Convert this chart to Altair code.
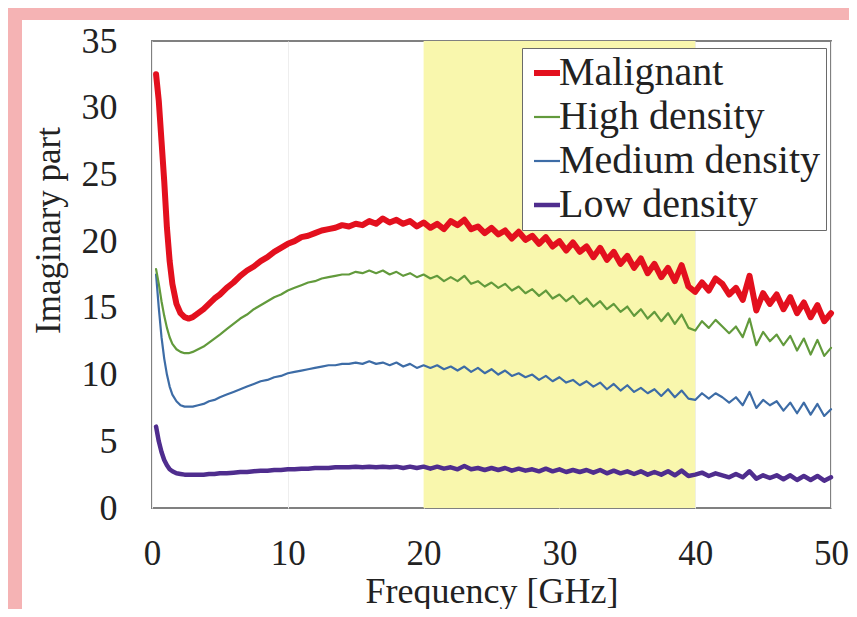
import altair as alt
import pandas as pd

# Frequency grid [GHz]
freq = [0.3, 0.5, 0.7, 0.9, 1.1, 1.3, 1.5, 1.8, 2.1, 2.4, 2.7, 3.0, 3.4, 3.8, 4.2, 4.6,
        5.0, 5.5, 6.0, 6.5, 7.0, 7.5, 8.0, 8.5, 9.0, 9.5,
        10.0, 10.5, 11.0, 11.5, 12.0, 12.5, 13.0, 13.5, 14.0, 14.5,
        15.0, 15.5, 16.0, 16.5, 17.0, 17.5, 18.0, 18.5, 19.0, 19.5,
        20.0, 20.5, 21.0, 21.5, 22.0, 22.5, 23.0, 23.5, 24.0, 24.5,
        25.0, 25.5, 26.0, 26.5, 27.0, 27.5, 28.0, 28.5, 29.0, 29.5,
        30.0, 30.5, 31.0, 31.5, 32.0, 32.5, 33.0, 33.5, 34.0, 34.5,
        35.0, 35.5, 36.0, 36.5, 37.0, 37.5, 38.0, 38.5, 39.0, 39.5,
        40.0, 40.5, 41.0, 41.5, 42.0, 42.5, 43.0, 43.5, 44.0, 44.5,
        45.0, 45.5, 46.0, 46.5, 47.0, 47.5, 48.0, 48.5, 49.0, 49.5, 50.0]

malignant = [32.5, 30.5, 27.5, 24.5, 21.0, 18.5, 16.8, 15.3, 14.6, 14.3, 14.2, 14.3, 14.6, 14.9, 15.3, 15.7,
             16.0, 16.5, 16.9, 17.4, 17.8, 18.1, 18.5, 18.8, 19.2, 19.5,
             19.8, 20.0, 20.3, 20.4, 20.6, 20.8, 20.9, 21.0, 21.2, 21.1,
             21.3, 21.2, 21.5, 21.3, 21.7, 21.4, 21.6, 21.3, 21.5, 21.1,
             21.4, 21.0, 21.3, 20.9, 21.5, 21.2, 21.6, 20.9, 21.1, 20.6,
             21.0, 20.5, 20.8, 20.2, 20.7, 20.1, 20.4, 19.8, 20.3, 19.6,
             20.0, 19.3, 19.9, 19.2, 19.6, 18.8, 19.5, 18.6, 19.2, 18.3,
             18.9, 18.0, 18.7, 17.6, 18.3, 17.3, 18.0, 17.0, 18.2, 16.6,
             16.2, 16.9, 16.3, 17.2, 16.8, 16.0, 16.5, 15.6, 17.4, 14.8,
             16.1, 15.3, 16.0, 14.9, 15.8, 14.6, 15.4, 14.3, 15.2, 14.0, 14.6]

high = [17.9, 16.8, 15.5, 14.4, 13.5, 12.8, 12.3, 11.9, 11.7, 11.6, 11.6, 11.7, 11.9, 12.1, 12.4, 12.7,
        13.0, 13.4, 13.8, 14.2, 14.5, 14.9, 15.2, 15.5, 15.8, 16.0,
        16.3, 16.5, 16.7, 16.9, 17.0, 17.2, 17.3, 17.4, 17.5, 17.5,
        17.7, 17.6, 17.8, 17.6, 17.8, 17.5, 17.7, 17.4, 17.6, 17.3,
        17.5, 17.2, 17.4, 17.0, 17.3, 17.0, 17.4, 16.8, 17.0, 16.6,
        16.9, 16.5, 16.8, 16.3, 16.6, 16.1, 16.4, 15.9, 16.3, 15.7,
        16.0, 15.5, 15.9, 15.3, 15.7, 15.1, 15.5, 14.9, 15.3, 14.7,
        15.1, 14.4, 14.9, 14.2, 14.7, 14.0, 14.6, 13.8, 14.5, 13.5,
        13.3, 14.0, 13.5, 14.1, 13.6, 13.1, 13.6, 12.8, 14.2, 12.2,
        13.2, 12.5, 13.0, 12.2, 12.9, 11.8, 12.7, 11.5, 12.6, 11.4, 12.0]

medium = [17.5, 15.0, 12.8, 11.2, 10.0, 9.1, 8.5, 8.0, 7.7, 7.6, 7.6, 7.6, 7.7, 7.8, 8.0, 8.1,
          8.3, 8.5, 8.7, 8.9, 9.1, 9.3, 9.5, 9.6, 9.8, 9.9,
          10.1, 10.2, 10.3, 10.4, 10.5, 10.6, 10.7, 10.7, 10.8, 10.8,
          10.9, 10.8, 11.0, 10.8, 10.9, 10.7, 10.9, 10.6, 10.8, 10.5,
          10.7, 10.5, 10.7, 10.4, 10.6, 10.3, 10.6, 10.2, 10.5, 10.1,
          10.4, 10.0, 10.3, 9.9, 10.1, 9.8, 10.0, 9.6, 9.9, 9.5,
          9.8, 9.4, 9.6, 9.2, 9.5, 9.1, 9.4, 8.9, 9.3, 8.8,
          9.2, 8.7, 9.0, 8.6, 8.9, 8.4, 8.9, 8.3, 8.8, 8.2,
          8.1, 8.6, 8.2, 8.6, 8.3, 7.9, 8.3, 7.7, 8.7, 7.5,
          8.1, 7.7, 8.0, 7.3, 7.9, 7.1, 7.9, 7.0, 7.8, 6.9, 7.4]

low = [6.1, 5.0, 4.2, 3.6, 3.2, 2.9, 2.75, 2.6, 2.55, 2.5, 2.5, 2.5, 2.5, 2.5, 2.55, 2.55,
       2.6, 2.6, 2.65, 2.7, 2.7, 2.75, 2.8, 2.8, 2.85, 2.85,
       2.9, 2.9, 2.95, 2.95, 3.0, 3.0, 3.0, 3.05, 3.05, 3.05,
       3.1, 3.05, 3.1, 3.05, 3.1, 3.05, 3.1, 3.0, 3.1, 3.0,
       3.1, 2.95, 3.1, 2.95, 3.05, 2.9, 3.15, 2.9, 3.0, 2.85,
       3.0, 2.85, 3.0, 2.8, 2.95, 2.8, 2.9, 2.75, 2.95, 2.75,
       2.9, 2.7, 2.85, 2.7, 2.85, 2.65, 2.85, 2.6, 2.8, 2.6,
       2.75, 2.55, 2.75, 2.5, 2.7, 2.5, 2.75, 2.45, 2.8, 2.4,
       2.5, 2.65, 2.4, 2.6, 2.45, 2.3, 2.55, 2.3, 2.75, 2.2,
       2.45, 2.25, 2.45, 2.15, 2.45, 2.1, 2.4, 2.1, 2.4, 2.05, 2.3]

series_names = ["Malignant", "High density", "Medium density", "Low density"]
series_colors = ["#e3101e", "#629a3c", "#3d6ca6", "#4f2d8e"]
series_widths = [6.0, 2.2, 2.2, 4.5]

x_ticks = [0, 10, 20, 30, 40, 50]
y_ticks = [0, 5, 10, 15, 20, 25, 30, 35]

band_start = [20]
band_end = [40]

rows = []
for name, vals in [("Low density", low), ("Medium density", medium),
                   ("High density", high), ("Malignant", malignant)]:
    for f, v in zip(freq, vals):
        rows.append({"freq": f, "value": v, "series": name})
df = pd.DataFrame(rows)

band_df = pd.DataFrame({"start": band_start, "end": band_end})
one = pd.DataFrame({"k": [0]})

FONT = "Liberation Serif"
PINK = "#f5b3b4"

x_enc = alt.X("freq:Q", scale=alt.Scale(domain=[0, 50], nice=False),
              axis=alt.Axis(values=x_ticks, title="Frequency [GHz]", labelFontSize=35,
                            labelBaseline="alphabetic", labelPadding=56, labelFlush=False,
                            titleFontSize=36, titleY=94, titleBaseline="alphabetic",
                            grid=True, gridColor="#eeeeee"))
y_enc = alt.Y("value:Q", scale=alt.Scale(domain=[0, 35], nice=False),
              axis=alt.Axis(values=y_ticks, title="Imaginary part", labelFontSize=36,
                            labelPadding=35, labelFlush=False,
                            titleFontSize=35, titleAngle=270,
                            titleX=-104, titleY=189, titleAlign="center",
                            titleBaseline="middle", grid=False))

# decorative pink frame strips (photo border)
left_strip = alt.Chart(one).mark_rect(color=PINK).encode(
    x=alt.value(-144), x2=alt.value(-130), y=alt.value(-33), y2=alt.value(570))
top_strip = alt.Chart(one).mark_rect(color=PINK).encode(
    x=alt.value(-144), x2=alt.value(700), y=alt.value(-33), y2=alt.value(-21))

band = alt.Chart(band_df).mark_rect(color="#f9f7ad").encode(
    x=alt.X("start:Q"), x2="end:Q", y=alt.value(0), y2=alt.value("height"))

lines = alt.Chart(df).mark_line(strokeJoin="round", strokeCap="round").encode(
    x=x_enc,
    y=y_enc,
    color=alt.Color("series:N", scale=alt.Scale(domain=series_names, range=series_colors),
                    legend=alt.Legend(title=None)),
    strokeWidth=alt.StrokeWidth("series:N",
                                scale=alt.Scale(type="ordinal", domain=series_names,
                                                range=series_widths),
                                legend=alt.Legend(title=None)),
)

chart = alt.layer(left_strip, top_strip, band, lines).properties(
    width=679, height=467,
    autosize=alt.AutoSizeParams(type="none"),
    padding={"left": 144, "top": 33, "right": 18, "bottom": 101},
    background="white",
).configure_view(
    stroke="#808080", strokeWidth=2
).configure_axis(
    labelFont=FONT, titleFont=FONT, labelColor="#222222", titleColor="#222222",
    titleFontWeight="normal", ticks=False, tickSize=0, domain=False,
).configure_legend(
    orient="none", legendX=370, legendY=7,
    strokeColor="#6a6a6a", fillColor="white", padding=5,
    labelFont=FONT, labelFontSize=40, labelColor="#222222", labelLimit=0,
    symbolType="stroke", symbolSize=676, labelOffset={"expr": "-8"}, rowPadding=4,
)

chart.save("out.html", embed_options={"renderer": "svg", "actions": False})
